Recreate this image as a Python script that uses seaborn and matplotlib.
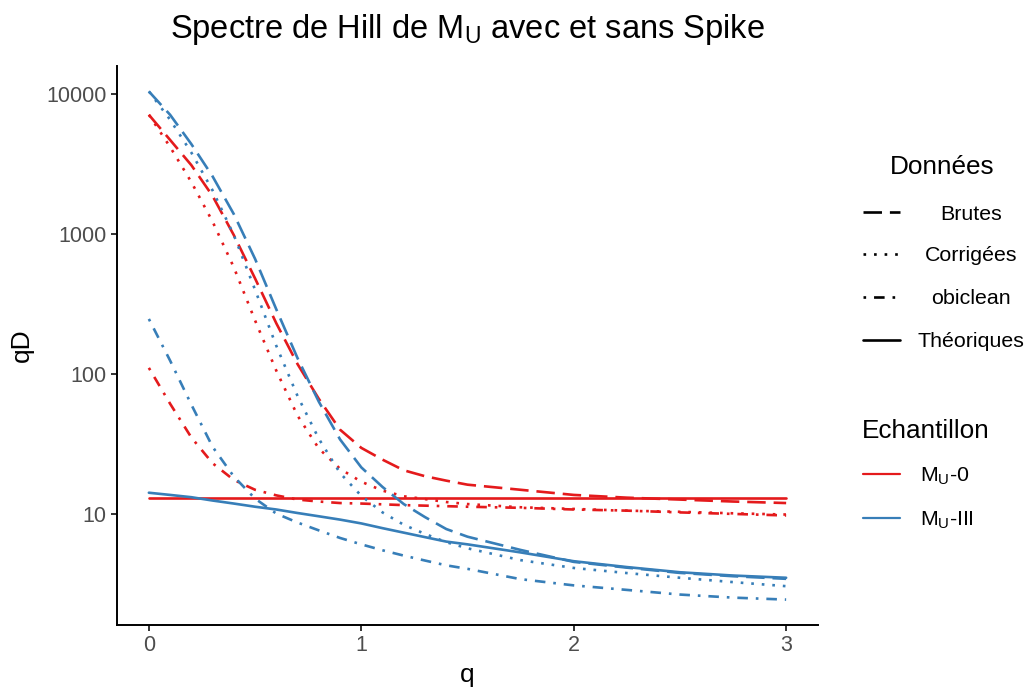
import numpy as np
import pandas as pd
import matplotlib
matplotlib.use("Agg")
import matplotlib.pyplot as plt
from matplotlib.lines import Line2D
from matplotlib.ticker import FixedLocator, FixedFormatter, NullLocator
import seaborn as sns

# Hill spectrum: order q and diversity qD for each sample / data type
q = [0, 0.1, 0.2, 0.3, 0.4, 0.5, 0.6, 0.7, 0.8, 0.9, 1.0,
     1.1, 1.2, 1.3, 1.4, 1.5, 1.75, 2.0, 2.25, 2.5, 2.75, 3.0]

mu0_brutes = [7080, 4680, 3090, 1860, 977, 479, 229, 117, 66.1, 39.8, 29.5,
              24.3, 20.4, 18.5, 17.2, 16.1, 14.8, 13.6, 13.0, 12.6, 12.2, 11.9]
mu0_corrigees = [7080, 4170, 2340, 1220, 575, 240, 105, 50.1, 29.2, 20.9, 16.9,
                 14.6, 13.3, 12.7, 12.1, 11.7, 11.1, 10.8, 10.5, 10.3, 10.05, 9.85]
mu0_obiclean = [110, 61.0, 35.0, 22.9, 17.4, 14.8, 13.5, 12.6, 12.2, 11.9, 11.8,
                11.65, 11.5, 11.4, 11.3, 11.2, 11.0, 10.7, 10.5, 10.2, 9.95, 9.7]
mu0_theoriques = [13.0, 13.0, 13.0, 13.0, 13.0, 13.0, 13.0, 13.0, 13.0, 13.0, 13.0,
                  13.0, 13.0, 13.0, 13.0, 13.0, 13.0, 13.0, 13.0, 13.0, 13.0, 13.0]

mu3_brutes = [10400, 7080, 4370, 2570, 1380, 661, 288, 129, 63.1, 33.9, 21.4,
              15.5, 11.7, 9.44, 7.76, 6.84, 5.50, 4.52, 4.11, 3.77, 3.57, 3.42]
mu3_corrigees = [10400, 6530, 3800, 2040, 977, 398, 158, 69.2, 34.3, 19.5, 13.4,
                 10.2, 8.32, 7.16, 6.25, 5.65, 4.65, 4.09, 3.76, 3.48, 3.24, 3.03]
mu3_obiclean = [246, 124, 60.1, 30.0, 18.4, 12.8, 10.0, 8.63, 7.59, 6.70, 6.03,
                5.47, 5.01, 4.62, 4.27, 4.03, 3.40, 3.07, 2.85, 2.64, 2.51, 2.43]
mu3_theoriques = [14.1, 13.6, 13.1, 12.4, 11.8, 11.2, 10.7, 10.1, 9.57, 9.06, 8.51,
                  7.87, 7.31, 6.79, 6.31, 6.03, 5.28, 4.57, 4.15, 3.81, 3.61, 3.48]

samples = ["M_U-0", "M_U-III"]
data_types = ["Brutes", "Corrigées", "obiclean", "Théoriques"]
sample_labels = [r"M$_\mathregular{U}$-0", r"M$_\mathregular{U}$-III"]

series = {
    ("M_U-0", "Brutes"): mu0_brutes,
    ("M_U-0", "Corrigées"): mu0_corrigees,
    ("M_U-0", "obiclean"): mu0_obiclean,
    ("M_U-0", "Théoriques"): mu0_theoriques,
    ("M_U-III", "Brutes"): mu3_brutes,
    ("M_U-III", "Corrigées"): mu3_corrigees,
    ("M_U-III", "obiclean"): mu3_obiclean,
    ("M_U-III", "Théoriques"): mu3_theoriques,
}

rows = []
for (ech, typ), vals in series.items():
    for qi, v in zip(q, vals):
        rows.append({"q": qi, "qD": v, "Echantillon": ech, "Données": typ})
df = pd.DataFrame(rows)

sns.set_theme(style="ticks")
plt.rcParams["font.family"] = ["Liberation Sans", "DejaVu Sans"]
plt.rcParams["mathtext.fontset"] = "custom"
plt.rcParams["mathtext.rm"] = "Liberation Sans"
plt.rcParams["mathtext.it"] = "Liberation Sans:italic"
plt.rcParams["mathtext.bf"] = "Liberation Sans:bold"
plt.rcParams["text.color"] = "black"
plt.rcParams["axes.labelcolor"] = "black"

palette = {"M_U-0": "#E41A1C", "M_U-III": "#377EB8"}
dash_map = {"Brutes": (7, 3), "Corrigées": (1, 3), "obiclean": (1, 3, 4, 3), "Théoriques": ""}
LW = 1.9

W, H = 1029, 688
fig = plt.figure(figsize=(W / 100, H / 100), dpi=100)
ax = fig.add_axes([117 / W, 1 - 625 / H, (818 - 117) / W, (625 - 66) / H])

sns.lineplot(data=df, x="q", y="qD", hue="Echantillon", style="Données",
             hue_order=samples, style_order=data_types,
             palette=palette, dashes=dash_map, linewidth=LW,
             estimator=None, legend=False, ax=ax)

ax.set_yscale("log")
lo, hi = np.log10(min(min(v) for v in series.values())), np.log10(max(max(v) for v in series.values()))
span = hi - lo
ax.set_ylim(10 ** (lo - 0.05 * span), 10 ** (hi + 0.05 * span))
ax.set_xlim(-0.15, 3.15)
ax.yaxis.set_major_locator(FixedLocator([10, 100, 1000, 10000]))
ax.yaxis.set_major_formatter(FixedFormatter(["10", "100", "1000", "10000"]))
ax.yaxis.set_minor_locator(NullLocator())
ax.xaxis.set_major_locator(FixedLocator([0, 1, 2, 3]))
ax.xaxis.set_major_formatter(FixedFormatter(["0", "1", "2", "3"]))

for s in ["top", "right"]:
    ax.spines[s].set_visible(False)
for s in ["left", "bottom"]:
    ax.spines[s].set_color("black")
    ax.spines[s].set_linewidth(1.4)
ax.tick_params(axis="both", which="major", length=4.5, width=1.4, color="#333333",
               labelcolor="#4D4D4D", labelsize=15.5, pad=3)

ax.set_xlabel("q", fontsize=19)
ax.set_ylabel("qD", fontsize=19)
ax.xaxis.set_label_coords(0.5, -0.068)
ax.yaxis.set_label_coords(-0.118, 0.5)
ax.set_title(r"Spectre de Hill de M$_\mathregular{U}$ avec et sans Spike",
             fontsize=23.5, pad=20, color="black")


def fx(px):
    return px / W


def fy(py):
    return 1 - py / H


# Legend: data types (line styles)
fig.text(fx(942), fy(173.5), "Données", ha="center", va="baseline", fontsize=18.8)
for typ, yc in zip(data_types, [212, 254, 297, 340]):
    d = dash_map[typ]
    ln = Line2D([fx(863), fx(900)], [fy(yc), fy(yc)], transform=fig.transFigure,
                color="black", linewidth=LW)
    if d:
        ln.set_dashes(d)
    fig.add_artist(ln)
    fig.text(fx(971), fy(yc + 7.5), typ, ha="center", va="baseline", fontsize=15.4)

# Legend: samples (colours)
fig.text(fx(862), fy(437.5), "Echantillon", ha="left", va="baseline", fontsize=18.8)
for ech, lab, yc in zip(samples, sample_labels, [474, 518]):
    fig.add_artist(Line2D([fx(863), fx(900)], [fy(yc), fy(yc)], transform=fig.transFigure,
                          color=palette[ech], linewidth=1.6))
    fig.text(fx(920), fy(yc + 7.5), lab, ha="left", va="baseline", fontsize=15.4)

fig.savefig("out.png", dpi=100)
